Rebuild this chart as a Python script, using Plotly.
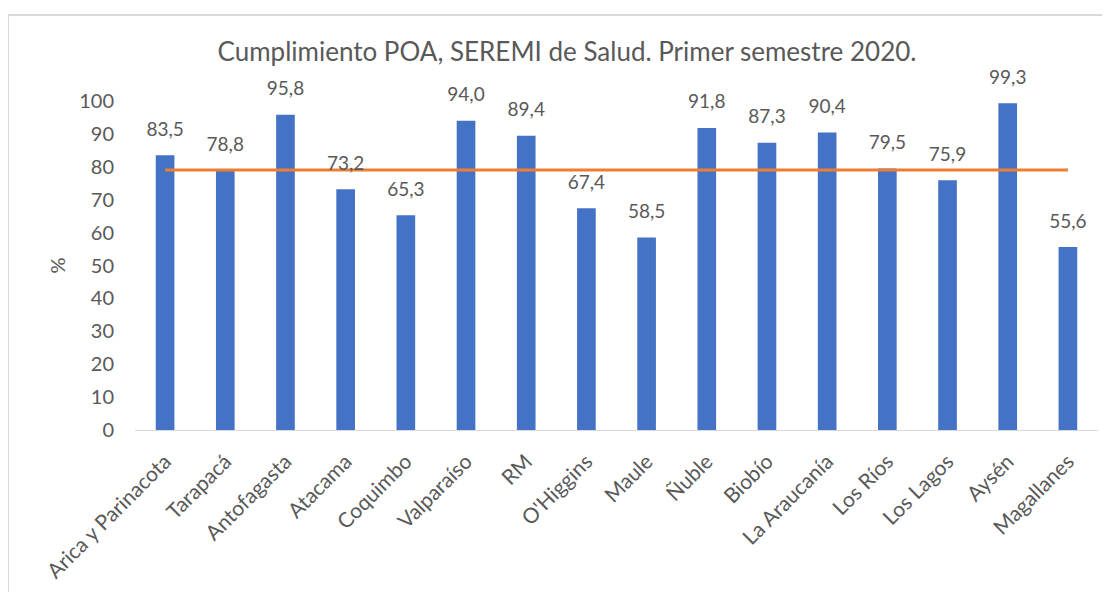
import plotly.graph_objects as go

regions = ["Arica y Parinacota", "Tarapacá", "Antofagasta", "Atacama", "Coquimbo",
           "Valparaíso", "RM", "O'Higgins", "Maule", "Ñuble", "Biobío",
           "La Araucanía", "Los Ríos", "Los Lagos", "Aysén", "Magallanes"]
cumplimiento = [83.5, 78.8, 95.8, 73.2, 65.3, 94.0, 89.4, 67.4, 58.5, 91.8,
                87.3, 90.4, 79.5, 75.9, 99.3, 55.6]
meta = [79.0] * len(regions)
y_ticks = [0, 10, 20, 30, 40, 50, 60, 70, 80, 90, 100]

FONT = "Lato"
GRAY = "#595959"

fig = go.Figure()
fig.add_trace(go.Bar(
    x=regions, y=cumplimiento,
    marker=dict(color="#4472C4", line=dict(width=0)),
    showlegend=False, hoverinfo="skip",
))
fig.add_trace(go.Scatter(
    x=regions, y=meta, mode="lines",
    line=dict(color="#ED7D31", width=3), showlegend=False,
))
fig.add_trace(go.Scatter(
    x=regions, y=cumplimiento, mode="markers+text",
    marker=dict(size=22, opacity=0), texttemplate="%{y:.1f}",
    textposition="top center",
    textfont=dict(family=FONT, size=19, color=GRAY),
    cliponaxis=False, showlegend=False,
))

# page body has an 8px offset; plot area placed accordingly
L, T = 127, 93
PLOT_W, PLOT_H = 963, 329
W, H = 1110, 592
R, B = W - L - PLOT_W, H - T - PLOT_H

fig.update_layout(
    width=W, height=H,
    margin=dict(l=L, r=R, t=T, b=B),
    paper_bgcolor="white", plot_bgcolor="white",
    separators=",.",
    bargap=0.69,
    font=dict(family=FONT, size=20, color=GRAY),
    title=dict(text="Cumplimiento POA, SEREMI de Salud. Primer semestre 2020.",
               x=(559) / W, xanchor="center", y=1 - 44 / H, yanchor="middle",
               font=dict(family=FONT, size=26, color=GRAY)),
    xaxis=dict(showgrid=False, showline=True, linecolor="#D9D9D9", linewidth=1,
               range=[-0.5, len(regions) - 0.5],
               ticks="", tickangle=-45, automargin=False, ticklabelstandoff=10,
               tickfont=dict(size=21, color=GRAY)),
    yaxis=dict(range=[0, 100], tickvals=y_ticks, showgrid=False, zeroline=False,
               showline=False, ticks="", automargin=False, ticklabelstandoff=20,
               tickfont=dict(size=20, color=GRAY),
               title=dict(text="%", standoff=8, font=dict(size=20, color=GRAY))),
    shapes=[dict(type="rect", xref="paper", yref="paper",
                 x0=(0 - L) / PLOT_W, x1=(W + 10 - L) / PLOT_W,
                 y0=(T + PLOT_H - (H + 10)) / PLOT_H, y1=(T + PLOT_H - 7) / PLOT_H,
                 line=dict(color="#D9D9D9", width=2), fillcolor="rgba(0,0,0,0)",
                 layer="below")],
)

fig.write_html("out.html")
